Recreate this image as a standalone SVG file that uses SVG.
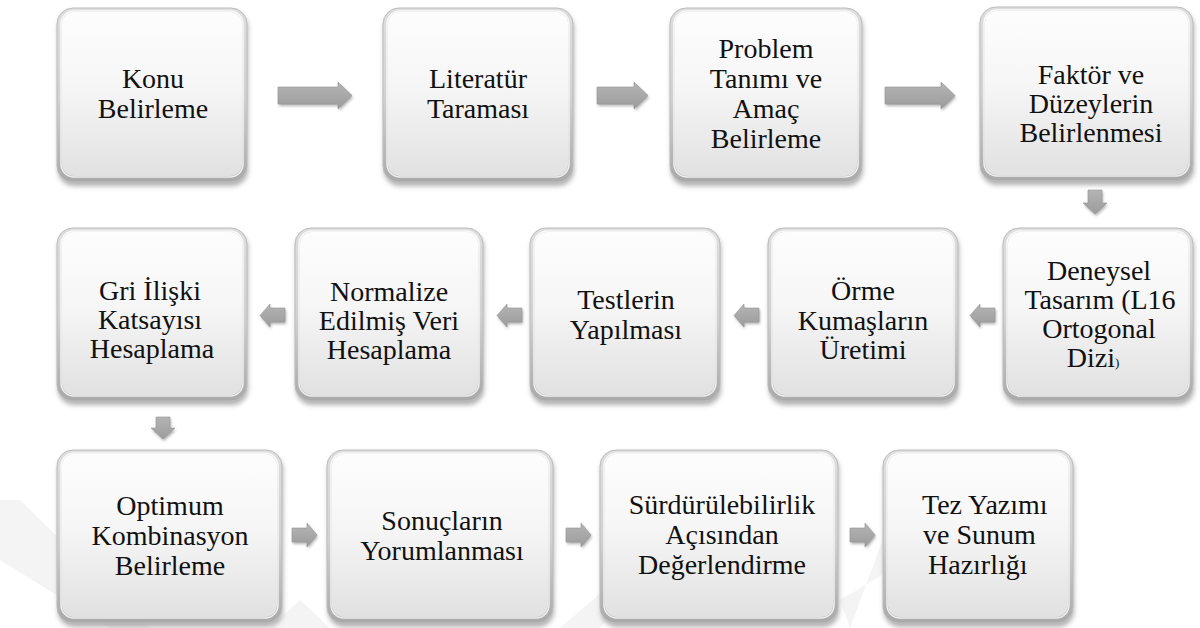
<svg xmlns="http://www.w3.org/2000/svg" width="1200" height="628" viewBox="0 0 1200 628">
<defs>
<linearGradient id="rim" x1="0" y1="0" x2="0" y2="1">
<stop offset="0" stop-color="#dedede"/><stop offset="0.5" stop-color="#d2d2d2"/><stop offset="1" stop-color="#a9a9a9"/>
</linearGradient>
<linearGradient id="face" x1="0" y1="0" x2="0" y2="1">
<stop offset="0" stop-color="#fdfdfd"/><stop offset="0.45" stop-color="#f6f6f6"/><stop offset="1" stop-color="#e1e1e1"/>
</linearGradient>
<linearGradient id="arr" x1="0" y1="0" x2="0" y2="1">
<stop offset="0" stop-color="#b4b4b4"/><stop offset="1" stop-color="#9c9c9c"/>
</linearGradient>
<filter id="blur" x="-10%" y="-10%" width="120%" height="120%"><feGaussianBlur stdDeviation="2.5"/></filter>
<filter id="ablur" x="-20%" y="-20%" width="140%" height="140%"><feGaussianBlur stdDeviation="1.5"/></filter>
</defs>
<style>
.sh{fill:#8f8f8f;opacity:.7;filter:url(#blur)}
.rim{fill:url(#rim);stroke:#bdbdbd;stroke-width:1}
.face{fill:url(#face)}
.hl{fill:none;stroke:#ffffff;stroke-width:1.5;opacity:.8}
.lbl{font-family:"Times New Roman",Times,"Liberation Serif",Tinos,"DejaVu Serif","Noto Serif","FreeSerif","Nimbus Roman","Noto Serif CJK SC",serif;font-size:28px;fill:#111;text-anchor:middle}
.st{text-anchor:start}
.small{font-size:13px}
.ash{fill:#7a7a7a;opacity:.6;filter:url(#ablur)}
.arr{fill:url(#arr);stroke:#959595;stroke-width:.6}
.wm{fill:#f4f4f4}
</style>
<rect width="1200" height="628" fill="#ffffff"/>
<g id="watermark">
<polygon class="wm" points="0,500 20,500 150,628 110,628 0,560"/>
<polygon class="wm" points="270,628 300,600 330,628"/>
<polygon class="wm" points="560,628 610,585 640,585 600,628"/>
<polygon class="wm" points="840,600 890,570 890,520 850,628"/>
</g>
<g id="connectors">
<path class="ash" d="M279,89 H339 V84 L353,97.5 L339,111 V106 H279 Z"/>
<path class="arr" d="M278,87 H338 V82 L352,95.5 L338,109 V104 H278 Z"/>
<path class="ash" d="M598,89 H635 V84 L649,97.5 L635,111 V106 H598 Z"/>
<path class="arr" d="M597,87 H634 V82 L648,95.5 L634,109 V104 H597 Z"/>
<path class="ash" d="M886,89 H942 V84 L956,97.5 L942,111 V106 H886 Z"/>
<path class="arr" d="M885,87 H941 V82 L955,95.5 L941,109 V104 H885 Z"/>
<path class="ash" d="M1089,192 H1103 V205 H1108 L1096,216 L1084,205 H1089 Z"/>
<path class="arr" d="M1088,190 H1102 V203 H1107 L1095,214 L1083,203 H1088 Z"/>
<path class="ash" d="M971,317.5 L981,306 V310 H996 V324 H981 V329 Z"/>
<path class="arr" d="M970,315.5 L980,304 V308 H995 V322 H980 V327 Z"/>
<path class="ash" d="M735,317.5 L745,306 V310 H760 V324 H745 V329 Z"/>
<path class="arr" d="M734,315.5 L744,304 V308 H759 V322 H744 V327 Z"/>
<path class="ash" d="M498,317.5 L508,306 V310 H523 V324 H508 V329 Z"/>
<path class="arr" d="M497,315.5 L507,304 V308 H522 V322 H507 V327 Z"/>
<path class="ash" d="M261,317.5 L271,306 V310 H286 V324 H271 V329 Z"/>
<path class="arr" d="M260,315.5 L270,304 V308 H285 V322 H270 V327 Z"/>
<path class="ash" d="M157,419 H171 V430 H176 L164,441 L152,430 H157 Z"/>
<path class="arr" d="M156,417 H170 V428 H175 L163,439 L151,428 H156 Z"/>
<path class="ash" d="M293,530 H308 V525 L318,537 L308,549 V544 H293 Z"/>
<path class="arr" d="M292,528 H307 V523 L317,535 L307,547 V542 H292 Z"/>
<path class="ash" d="M567,530 H582 V525 L592,537 L582,549 V544 H567 Z"/>
<path class="arr" d="M566,528 H581 V523 L591,535 L581,547 V542 H566 Z"/>
<path class="ash" d="M851,530 H866 V525 L876,537 L866,549 V544 H851 Z"/>
<path class="arr" d="M850,528 H865 V523 L875,535 L865,547 V542 H850 Z"/>
</g>
<g id="n1">
<rect class="sh" x="58" y="12" width="190" height="174" rx="16"/>
<rect class="rim" x="57" y="8" width="190" height="174" rx="16"/>
<rect class="face" x="62" y="12" width="180" height="164" rx="12"/>
<rect class="hl" x="61" y="11" width="182" height="166" rx="13"/>
<text class="lbl" x="153" y="88">Konu</text><text class="lbl" x="153" y="118">Belirleme</text>
</g>
<g id="n2">
<rect class="sh" x="384" y="12" width="190" height="174" rx="16"/>
<rect class="rim" x="383" y="8" width="190" height="174" rx="16"/>
<rect class="face" x="388" y="12" width="180" height="164" rx="12"/>
<rect class="hl" x="387" y="11" width="182" height="166" rx="13"/>
<text class="lbl" x="478" y="88">Literatür</text><text class="lbl" x="478" y="118">Taraması</text>
</g>
<g id="n3">
<rect class="sh" x="671" y="12" width="192" height="174" rx="16"/>
<rect class="rim" x="670" y="8" width="192" height="174" rx="16"/>
<rect class="face" x="675" y="12" width="182" height="164" rx="12"/>
<rect class="hl" x="674" y="11" width="184" height="166" rx="13"/>
<text class="lbl" x="766" y="58">Problem</text><text class="lbl" x="766" y="88">Tanımı ve</text><text class="lbl" x="766" y="118">Amaç</text><text class="lbl" x="766" y="148">Belirleme</text>
</g>
<g id="n4">
<rect class="sh" x="981" y="11" width="213" height="174" rx="16"/>
<rect class="rim" x="980" y="7" width="213" height="174" rx="16"/>
<rect class="face" x="985" y="11" width="203" height="164" rx="12"/>
<rect class="hl" x="984" y="10" width="205" height="166" rx="13"/>
<text class="lbl" x="1091" y="84">Faktör ve</text><text class="lbl" x="1091" y="113">Düzeylerin</text><text class="lbl" x="1091" y="142">Belirlenmesi</text>
</g>
<g id="n5">
<rect class="sh" x="1004" y="232" width="190" height="173" rx="16"/>
<rect class="rim" x="1003" y="228" width="190" height="173" rx="16"/>
<rect class="face" x="1008" y="232" width="180" height="163" rx="12"/>
<rect class="hl" x="1007" y="231" width="182" height="165" rx="13"/>
<text class="lbl" x="1099" y="280">Deneysel</text><text class="lbl" x="1100" y="309">Tasarım (L16</text><text class="lbl" x="1099" y="338">Ortogonal</text><text class="lbl" x="1093" y="367">Dizi<tspan class="small">)</tspan></text>
</g>
<g id="n6">
<rect class="sh" x="769" y="232" width="190" height="173" rx="16"/>
<rect class="rim" x="768" y="228" width="190" height="173" rx="16"/>
<rect class="face" x="773" y="232" width="180" height="163" rx="12"/>
<rect class="hl" x="772" y="231" width="182" height="165" rx="13"/>
<text class="lbl" x="863" y="300">Örme</text><text class="lbl" x="863" y="330">Kumaşların</text><text class="lbl" x="863" y="359">Üretimi</text>
</g>
<g id="n7">
<rect class="sh" x="531" y="232" width="190" height="173" rx="16"/>
<rect class="rim" x="530" y="228" width="190" height="173" rx="16"/>
<rect class="face" x="535" y="232" width="180" height="163" rx="12"/>
<rect class="hl" x="534" y="231" width="182" height="165" rx="13"/>
<text class="lbl" x="626" y="309">Testlerin</text><text class="lbl" x="626" y="339">Yapılması</text>
</g>
<g id="n8">
<rect class="sh" x="296" y="232" width="188" height="173" rx="16"/>
<rect class="rim" x="295" y="228" width="188" height="173" rx="16"/>
<rect class="face" x="300" y="232" width="178" height="163" rx="12"/>
<rect class="hl" x="299" y="231" width="180" height="165" rx="13"/>
<text class="lbl" x="389" y="301">Normalize</text><text class="lbl" x="389" y="330">Edilmiş Veri</text><text class="lbl" x="389" y="359">Hesaplama</text>
</g>
<g id="n9">
<rect class="sh" x="58" y="232" width="190" height="173" rx="16"/>
<rect class="rim" x="57" y="228" width="190" height="173" rx="16"/>
<rect class="face" x="62" y="232" width="180" height="163" rx="12"/>
<rect class="hl" x="61" y="231" width="182" height="165" rx="13"/>
<text class="lbl" x="150" y="300">Gri İlişki</text><text class="lbl" x="150" y="329">Katsayısı</text><text class="lbl" x="152" y="358">Hesaplama</text>
</g>
<g id="n10">
<rect class="sh" x="58" y="454" width="225" height="173" rx="16"/>
<rect class="rim" x="57" y="450" width="225" height="173" rx="16"/>
<rect class="face" x="62" y="454" width="215" height="163" rx="12"/>
<rect class="hl" x="61" y="453" width="217" height="165" rx="13"/>
<text class="lbl" x="170" y="515">Optimum</text><text class="lbl" x="170" y="545">Kombinasyon</text><text class="lbl" x="170" y="575">Belirleme</text>
</g>
<g id="n11">
<rect class="sh" x="328" y="454" width="226" height="173" rx="16"/>
<rect class="rim" x="327" y="450" width="226" height="173" rx="16"/>
<rect class="face" x="332" y="454" width="216" height="163" rx="12"/>
<rect class="hl" x="331" y="453" width="218" height="165" rx="13"/>
<text class="lbl" x="442" y="530">Sonuçların</text><text class="lbl" x="442" y="560">Yorumlanması</text>
</g>
<g id="n12">
<rect class="sh" x="601" y="454" width="238" height="173" rx="16"/>
<rect class="rim" x="600" y="450" width="238" height="173" rx="16"/>
<rect class="face" x="605" y="454" width="228" height="163" rx="12"/>
<rect class="hl" x="604" y="453" width="230" height="165" rx="13"/>
<text class="lbl" x="722" y="514">Sürdürülebilirlik</text><text class="lbl" x="722" y="544">Açısından</text><text class="lbl" x="722" y="574">Değerlendirme</text>
</g>
<g id="n13">
<rect class="sh" x="884" y="454" width="190" height="173" rx="16"/>
<rect class="rim" x="883" y="450" width="190" height="173" rx="16"/>
<rect class="face" x="888" y="454" width="180" height="163" rx="12"/>
<rect class="hl" x="887" y="453" width="182" height="165" rx="13"/>
<text class="lbl st" x="922" y="514">Tez Yazımı</text><text class="lbl st" x="923" y="544">ve Sunum</text><text class="lbl st" x="928" y="574">Hazırlığı</text>
</g>
</svg>
